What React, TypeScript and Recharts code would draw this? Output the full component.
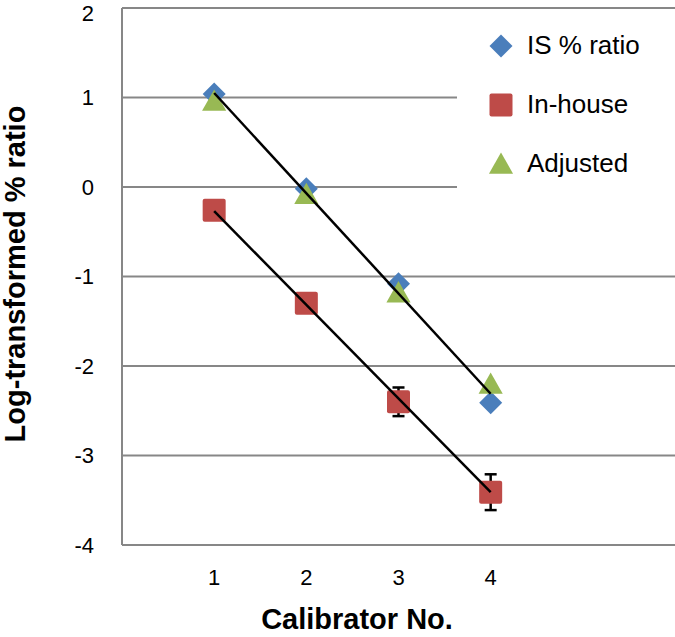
import React from 'react';
import {
  ComposedChart,
  Scatter,
  XAxis,
  YAxis,
  CartesianGrid,
  ErrorBar,
  Legend,
  Label
} from 'recharts';

const calibrators = [1, 2, 3, 4];
const isRatio = [1.04, -0.02, -1.08, -2.41];
const inHouse = [-0.26, -1.3, -2.4, -3.41];
const inHouseErr: (number | null)[] = [null, null, 0.16, 0.2];
const adjusted = [0.96, -0.08, -1.18, -2.2];

// fitted line end points (calibrator 1 and 4)
const fitX = [1, 4];
const upperFit = [1.05, -2.31];
const lowerFit = [-0.27, -3.41];

const yTicks = [-4, -3, -2, -1, 0, 1, 2];
const xTicks = [1, 2, 3, 4];
const legendOrder = ['IS % ratio', 'In-house', 'Adjusted'];

const BLUE = '#4a7ebb';
const RED = '#be4b48';
const GREEN = '#98b954';
const GRID = '#878787';
const FONT = '"Liberation Sans", Arial, sans-serif';
const M = 11.5; // half marker size

const isData = calibrators.map((x, i) => ({ x, y: isRatio[i] }));
const inHouseData = calibrators.map((x, i) => ({ x, y: inHouse[i], err: inHouseErr[i] }));
const adjustedData = calibrators.map((x, i) => ({ x, y: adjusted[i] }));
const upperFitData = fitX.map((x, i) => ({ x, y: upperFit[i] }));
const lowerFitData = fitX.map((x, i) => ({ x, y: lowerFit[i] }));

const Diamond = ({ cx, cy }: any) => (
  <polygon
    points={`${cx},${cy - M} ${cx + M},${cy} ${cx},${cy + M} ${cx - M},${cy}`}
    fill={BLUE}
  />
);

const Square = ({ cx, cy }: any) => (
  <rect x={cx - M} y={cy - M} width={M * 2} height={M * 2} rx={2} fill={RED} />
);

const Triangle = ({ cx, cy }: any) => (
  <polygon
    points={`${cx},${cy - M} ${cx + M * 1.05},${cy + M * 0.85} ${cx - M * 1.05},${cy + M * 0.85}`}
    fill={GREEN}
  />
);

const NoDot = () => <g />;

const markerFor: Record<string, (p: any) => React.ReactElement> = {
  'IS % ratio': Diamond,
  'In-house': Square,
  'Adjusted': Triangle
};

const XTick = ({ x, y, payload }: any) => (
  <text x={x} y={y} dy="0.71em" textAnchor="middle" fontSize={22} fontFamily={FONT} fill="#000">
    {payload.value}
  </text>
);

// top label is nudged down so it stays inside the picture
const YTick = ({ x, y, payload }: any) => (
  <text x={x} y={Math.max(y, 13)} dy="0.36em" textAnchor="end" fontSize={22} fontFamily={FONT} fill="#000">
    {payload.value}
  </text>
);

const renderLegend = () => (
  <div>
    {legendOrder.map((name) => {
      const Marker = markerFor[name];
      return (
        <div key={name} style={{ display: 'flex', alignItems: 'center', height: 59 }}>
          <svg width={70} height={30} style={{ flex: 'none' }}>
            <Marker cx={44} cy={15} />
          </svg>
          <span style={{ fontFamily: FONT, fontSize: 26, color: '#000', marginLeft: 0 }}>{name}</span>
        </div>
      );
    })}
  </div>
);

export default function App() {
  return (
    <div style={{ position: 'absolute', left: 0, top: 0, background: '#fff' }}>
      <ComposedChart width={675} height={637} margin={{ top: 8, right: 0, left: 0, bottom: 0 }}>
        <CartesianGrid vertical={false} stroke={GRID} strokeWidth={2} />
        <XAxis
          type="number"
          dataKey="x"
          domain={[0, 6]}
          ticks={xTicks}
          height={92}
          tickLine={false}
          tickSize={0}
          tickMargin={24}
          axisLine={{ stroke: GRID, strokeWidth: 2 }}
          tick={<XTick />}
        >
          <Label
            content={({ viewBox }: any) => (
              <text
                x={viewBox.x + 235}
                y={viewBox.y + 84}
                textAnchor="middle"
                fontSize={29}
                fontWeight="bold"
                fontFamily={FONT}
                fill="#000"
              >
                Calibrator No.
              </text>
            )}
          />
        </XAxis>
        <YAxis
          type="number"
          dataKey="y"
          domain={[-4, 2]}
          ticks={yTicks}
          width={122}
          tickLine={false}
          tickSize={0}
          tickMargin={28}
          axisLine={{ stroke: GRID, strokeWidth: 2 }}
          tick={<YTick />}
        >
          <Label
            content={({ viewBox }: any) => {
              const lx = viewBox.x + 25;
              const ly = viewBox.y + 266;
              return (
                <text
                  x={lx}
                  y={ly}
                  transform={`rotate(-90, ${lx}, ${ly})`}
                  textAnchor="middle"
                  fontSize={29}
                  fontWeight="bold"
                  fontFamily={FONT}
                  fill="#000"
                >
                  Log-transformed % ratio
                </text>
              );
            }}
          />
        </YAxis>
        <Legend
          layout="vertical"
          align="center"
          verticalAlign="middle"
          content={renderLegend}
          wrapperStyle={{ left: 457, top: 16, width: 218, height: 205, background: '#fff' }}
        />
        <Scatter name="IS % ratio" data={isData} shape={Diamond} isAnimationActive={false} />
        <Scatter name="In-house" data={inHouseData} shape={Square} isAnimationActive={false}>
          <ErrorBar dataKey="err" direction="y" width={6} stroke="#000" strokeWidth={2.5} isAnimationActive={false} />
        </Scatter>
        <Scatter name="Adjusted" data={adjustedData} shape={Triangle} isAnimationActive={false} />
        <Scatter
          name="upper fit"
          data={upperFitData}
          line={{ stroke: '#000', strokeWidth: 2.5 }}
          shape={NoDot}
          legendType="none"
          isAnimationActive={false}
        />
        <Scatter
          name="lower fit"
          data={lowerFitData}
          line={{ stroke: '#000', strokeWidth: 2.5 }}
          shape={NoDot}
          legendType="none"
          isAnimationActive={false}
        />
      </ComposedChart>
    </div>
  );
}
